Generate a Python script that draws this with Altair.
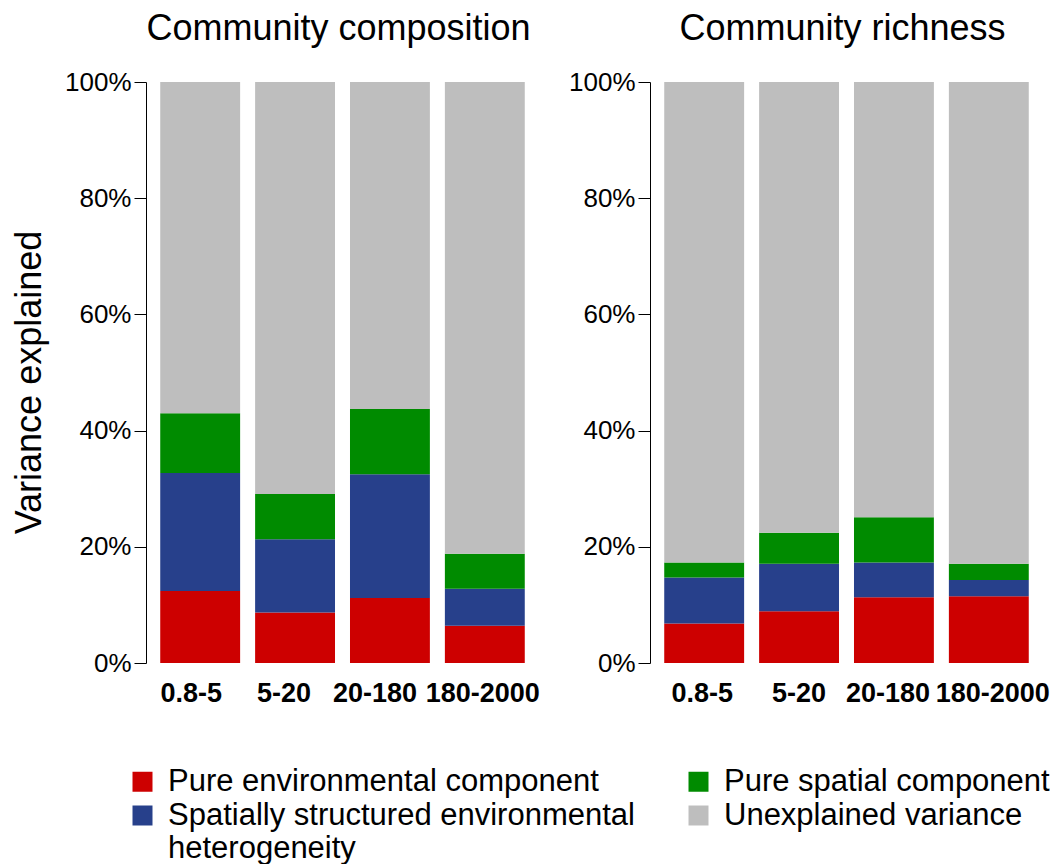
import altair as alt
import pandas as pd

FONT = "Liberation Sans, Arial, sans-serif"

categories = ["0.8-5", "5-20", "20-180", "180-2000"]
legend_order = [
    "Pure environmental component",
    "Pure spatial component",
    "Spatially structured environmental heterogeneity",
    "Unexplained variance",
]
stack_order = [
    "Pure environmental component",
    "Spatially structured environmental heterogeneity",
    "Pure spatial component",
    "Unexplained variance",
]
colors = ["#CD0000", "#008B00", "#27408B", "#BEBEBE"]

# Community composition (% of variance)
comp_env = [12.4, 8.7, 11.2, 6.4]
comp_sse = [20.3, 12.6, 21.3, 6.4]
comp_spa = [10.3, 7.8, 11.2, 6.0]
comp_unx = [57.0, 70.9, 56.3, 81.2]

# Community richness (% of variance)
rich_env = [6.8, 8.9, 11.3, 11.5]
rich_sse = [7.9, 8.2, 6.0, 2.8]
rich_spa = [2.6, 5.3, 7.8, 2.8]
rich_unx = [82.7, 77.6, 74.9, 82.9]

# horizontal nudges of the category labels (style only)
comp_label_nudge = [-9, -11, -15, -2]
rich_label_nudge = [-2, 0, -6, 4]


def build(env, sse, spa, unx):
    rows = []
    series = dict(zip(stack_order, [env, sse, spa, unx]))
    for comp in stack_order:
        for cat, v in zip(categories, series[comp]):
            rows.append({"size": cat, "component": comp, "value": v,
                         "order": stack_order.index(comp)})
    return pd.DataFrame(rows)


df_comp = build(comp_env, comp_sse, comp_spa, comp_unx)
df_rich = build(rich_env, rich_sse, rich_spa, rich_unx)

legend = alt.Legend(
    title=None,
    orient="none",
    legendX=-19,
    legendY=684,
    columns=2,
    direction="horizontal",
    symbolType="square",
    symbolSize=400,
    symbolStrokeWidth=0,
    labelFontSize=31,
    labelFont=FONT,
    labelBaseline="middle",
    labelLimit=1000,
    labelOffset=10,
    columnPadding=48,
    rowPadding=2,
    padding=0,
    labelExpr="datum.label == 'Spatially structured environmental heterogeneity' ? ['Spatially structured environmental', 'heterogeneity'] : datum.label",
)


def nudge(offsets):
    return {
        "condition": [
            {"test": f"datum.value == '{c}'", "value": o}
            for c, o in zip(categories[:-1], offsets[:-1])
        ],
        "value": offsets[-1],
    }


def panel(df, title, ytitle, offsets):
    yaxis_kwargs = dict(
        values=[0, 20, 40, 60, 80, 100],
        labelExpr="datum.value + '%'",
        labelFontSize=26,
        labelFont=FONT,
        labelColor="#000000",
        labelPadding=3,
        tickSize=12,
        tickColor="#000000",
        domainColor="#000000",
        grid=False,
        titleFontSize=36,
        titleFont=FONT,
        titleFontWeight="normal",
        titleColor="#000000",
        titlePadding=16,
    )
    if ytitle:
        yaxis = alt.Axis(title=ytitle, titleY=300, **yaxis_kwargs)
    else:
        yaxis = alt.Axis(title=None, **yaxis_kwargs)
    return alt.Chart(df).mark_bar().encode(
        x=alt.X(
            "size:N",
            sort=categories,
            scale=alt.Scale(paddingInner=0.158, paddingOuter=0.15),
            axis=alt.Axis(
                title=None,
                labelAngle=0,
                labelFontSize=27,
                labelFont=FONT,
                labelFontWeight="bold",
                labelColor="#000000",
                labelOffset=nudge(offsets),
                ticks=False,
                tickSize=0,
                domain=False,
                labelPadding=17,
            ),
        ),
        y=alt.Y("value:Q", stack="zero", scale=alt.Scale(domain=[0, 100]), axis=yaxis),
        color=alt.Color(
            "component:N",
            scale=alt.Scale(domain=legend_order, range=colors),
            legend=legend,
        ),
        order=alt.Order("order:Q", sort="ascending"),
    ).properties(
        width=393,
        height=581,
        title=alt.TitleParams(
            text=title,
            fontSize=36,
            font=FONT,
            fontWeight="normal",
            color="#000000",
            anchor="middle",
            offset=21,
            dx=-4,
        ),
    )


left = panel(df_comp, "Community composition", "Variance explained", comp_label_nudge)
right = panel(df_rich, "Community richness", None, rich_label_nudge)

chart = alt.hconcat(left, right, spacing=28).properties(
    padding={"left": 3, "top": 3, "right": 0, "bottom": 0}
).configure(font=FONT).configure_view(stroke=None)

chart.save("out.html", embed_options={"renderer": "svg", "actions": False})
